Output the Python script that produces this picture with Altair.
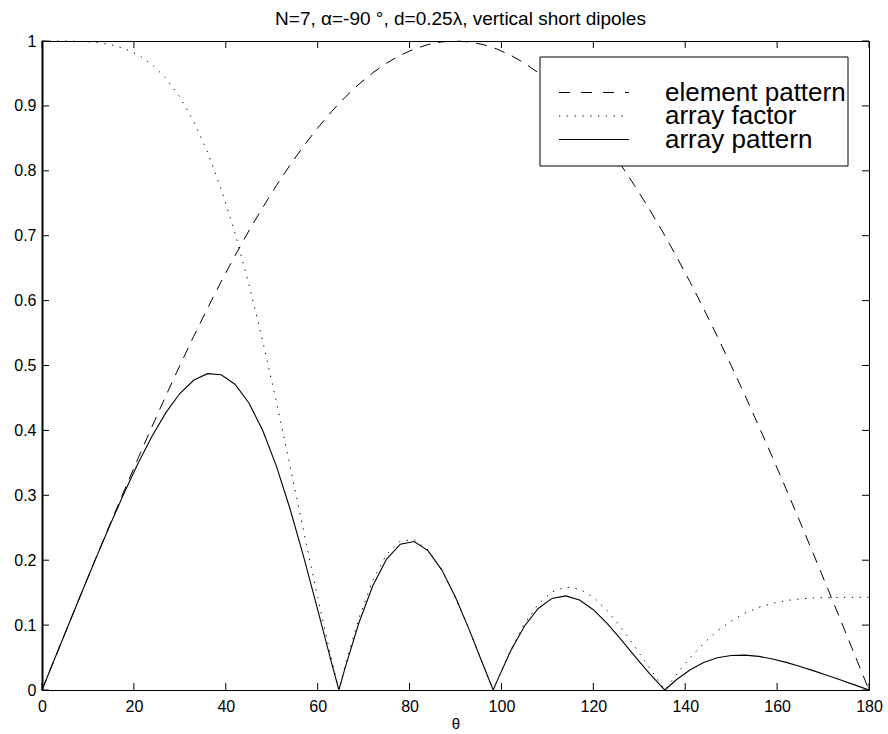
import altair as alt
import pandas as pd

# Observation angle theta in degrees (null directions included as points)
theta = [0, 3, 6, 9, 12, 15, 18, 21, 24, 27, 30, 33, 36, 39, 42, 45, 48, 51, 54, 57, 60, 63,
         64.62, 66, 69, 72, 75, 78, 81, 84, 87, 90, 93, 96, 98.21, 99, 102, 105, 108, 111,
         114, 117, 120, 123, 126, 129, 132, 135, 135.58, 138, 141, 144, 147, 150, 153, 156,
         159, 162, 165, 168, 171, 174, 177, 180]

# Normalised element pattern of a vertical short dipole
element_pattern = [0.0, 0.0523, 0.1045, 0.1564, 0.2079, 0.2588, 0.3090, 0.3584, 0.4067, 0.4540,
                   0.5000, 0.5446, 0.5878, 0.6293, 0.6691, 0.7071, 0.7431, 0.7771, 0.8090, 0.8387,
                   0.8660, 0.8910, 0.9035, 0.9135, 0.9336, 0.9511, 0.9659, 0.9781, 0.9877, 0.9945,
                   0.9986, 1.0000, 0.9986, 0.9945, 0.9897, 0.9877, 0.9781, 0.9659, 0.9511, 0.9336,
                   0.9135, 0.8910, 0.8660, 0.8387, 0.8090, 0.7771, 0.7431, 0.7071, 0.6999, 0.6691,
                   0.6293, 0.5878, 0.5446, 0.5000, 0.4540, 0.4067, 0.3584, 0.3090, 0.2588, 0.2079,
                   0.1564, 0.1045, 0.0523, 0.0]

# Normalised array factor, N=7 end-fire array
array_factor = [1.0, 1.0, 0.9999, 0.9993, 0.9976, 0.9943, 0.9882, 0.9784, 0.9635, 0.9424,
                0.9137, 0.8763, 0.8292, 0.7719, 0.7040, 0.6260, 0.5389, 0.4444, 0.3448, 0.2431,
                0.1429, 0.0478, 0.0, 0.0381, 0.1114, 0.1690, 0.2088, 0.2296, 0.2316, 0.2160,
                0.1853, 0.1429, 0.0927, 0.0392, 0.0, 0.0135, 0.0615, 0.1018, 0.1321, 0.1511,
                0.1588, 0.1556, 0.1429, 0.1225, 0.0965, 0.0671, 0.0363, 0.0058, 0.0, 0.0230,
                0.0492, 0.0719, 0.0910, 0.1064, 0.1184, 0.1273, 0.1336, 0.1378, 0.1404, 0.1419,
                0.1425, 0.1428, 0.1429, 0.1429]

# Total array pattern (element pattern x array factor)
array_pattern = [0.0, 0.0523, 0.1045, 0.1563, 0.2074, 0.2573, 0.3054, 0.3506, 0.3919, 0.4278,
                 0.4568, 0.4773, 0.4874, 0.4858, 0.4711, 0.4427, 0.4005, 0.3454, 0.2789, 0.2039,
                 0.1237, 0.0426, 0.0, 0.0348, 0.1040, 0.1607, 0.2017, 0.2246, 0.2288, 0.2148,
                 0.1851, 0.1429, 0.0926, 0.0390, 0.0, 0.0133, 0.0602, 0.0983, 0.1256, 0.1411,
                 0.1450, 0.1386, 0.1237, 0.1027, 0.0781, 0.0522, 0.0270, 0.0041, 0.0, 0.0154,
                 0.0309, 0.0423, 0.0496, 0.0532, 0.0538, 0.0518, 0.0479, 0.0426, 0.0363, 0.0295,
                 0.0223, 0.0149, 0.0075, 0.0]

x_ticks = [0, 20, 40, 60, 80, 100, 120, 140, 160, 180]
y_ticks = [0, 0.1, 0.2, 0.3, 0.4, 0.5, 0.6, 0.7, 0.8, 0.9, 1]

legend_labels = ["element pattern", "array factor", "array pattern"]
title_text = "N=7, \u03b1=-90 \u00b0, d=0.25\u03bb, vertical short dipoles"

W, H = 827, 649
TICK = 7
NARROW = "Liberation Sans Narrow, Arial Narrow, Liberation Sans, sans-serif"
SANS = "Liberation Sans, Arial, Helvetica, sans-serif"

x_scale = alt.Scale(domain=[0, 180], nice=False, zero=False)
y_scale = alt.Scale(domain=[0, 1], nice=False, zero=False)

x_axis = alt.Axis(values=x_ticks, ticks=False, tickSize=0, grid=False, domain=False,
                  labelFont=NARROW, labelFontSize=16, labelColor="black", labelPadding=8,
                  title="\u03b8", titleFont=SANS, titleFontSize=15, titleFontWeight="normal",
                  titleColor="black", titlePadding=2, labelFlush=False)
y_axis = alt.Axis(values=y_ticks, ticks=False, tickSize=0, grid=False, domain=True,
                  domainColor="black", domainWidth=2,
                  labelFont=NARROW, labelFontSize=16, labelColor="black", labelPadding=6,
                  labelExpr="datum.value == 0 ? '0' : datum.value == 1 ? '1' : format(datum.value, '.1f')",
                  title=None, labelFlush=False)

X = alt.X("theta:Q", scale=x_scale, axis=x_axis)
Y = alt.Y("value:Q", scale=y_scale, axis=y_axis)

elem_df = pd.DataFrame({"theta": theta, "value": element_pattern})
af_df = pd.DataFrame({"theta": theta, "value": array_factor})
ap_df = pd.DataFrame({"theta": theta, "value": array_pattern})

elem_line = alt.Chart(elem_df).mark_line(color="black", strokeWidth=1, strokeDash=[11, 8]).encode(x=X, y=Y)
af_line = alt.Chart(af_df).mark_line(color="black", strokeWidth=1, strokeDash=[1.3, 6.5]).encode(x=X, y=Y)
ap_line = alt.Chart(ap_df).mark_line(color="black", strokeWidth=1.1).encode(x=X, y=Y)

# Inward tick marks on all four sides of the box
xt_df = pd.DataFrame({"theta": x_ticks})
yt_df = pd.DataFrame({"value": y_ticks})
tick_style = dict(color="black", strokeWidth=1)
bottom_ticks = alt.Chart(xt_df).mark_rule(**tick_style).encode(x=X, y=alt.value(H), y2=alt.value(H - TICK))
top_ticks = alt.Chart(xt_df).mark_rule(**tick_style).encode(x=X, y=alt.value(0), y2=alt.value(TICK))
left_ticks = alt.Chart(yt_df).mark_rule(**tick_style).encode(y=Y, x=alt.value(0), x2=alt.value(TICK))
right_ticks = alt.Chart(yt_df).mark_rule(**tick_style).encode(y=Y, x=alt.value(W), x2=alt.value(W - TICK))

one = pd.DataFrame({"k": [0]})

# Plot title above the box
title_mark = alt.Chart(one).mark_text(
    text=title_text, align="center", baseline="alphabetic", font=SANS, fontSize=19,
    color="black").encode(x=alt.value(W / 2 + 5), y=alt.value(-16))

# Legend box in the upper right corner
leg_box = alt.Chart(one).mark_rect(fill="white", stroke="black", strokeWidth=1).encode(
    x=alt.value(498), x2=alt.value(806), y=alt.value(16), y2=alt.value(125))
leg_rows = [(51.5, [11, 11], 1), (75, [1.3, 6.5], 1), (98.5, None, 1.1)]
leg_layers = [leg_box]
for label, (ly, dash, sw) in zip(legend_labels, leg_rows):
    kw = dict(color="black", strokeWidth=sw)
    if dash:
        kw["strokeDash"] = dash
    leg_layers.append(alt.Chart(one).mark_rule(**kw).encode(
        x=alt.value(517), x2=alt.value(587), y=alt.value(ly)))
    leg_layers.append(alt.Chart(one).mark_text(
        text=label, align="left", baseline="middle", font=SANS, fontSize=26, color="black").encode(
        x=alt.value(623), y=alt.value(ly)))

chart = alt.layer(
    elem_line, af_line, ap_line,
    bottom_ticks, top_ticks, left_ticks, right_ticks,
    title_mark, *leg_layers
).properties(
    width=W, height=H,
    autosize=alt.AutoSizeParams(type="none"),
    padding={"left": 42, "top": 41, "right": 19, "bottom": 44},
    background="white",
).configure_view(stroke="black", strokeWidth=1)

chart.save("out.html", embed_options={"renderer": "svg", "actions": False})
